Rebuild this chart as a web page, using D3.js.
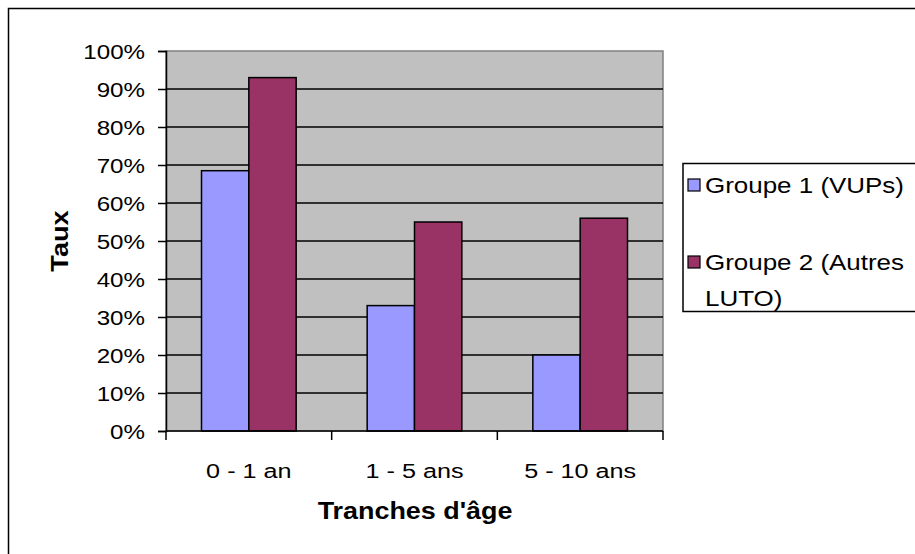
<!DOCTYPE html>
<html lang="fr">
<head>
  <meta charset="UTF-8">
  <title>Taux par tranches d'âge</title>
  <script src="https://cdn.jsdelivr.net/npm/d3@7"></script>
  <style>
    body { margin: 0; background: #fff; }
    svg { display: block; font-family: Arial, "Liberation Sans", sans-serif; }
  </style>
</head>
<body>
<svg id="chart" width="915" height="554"></svg>
<script>
  const categories = ["0 - 1 an", "1 - 5 ans", "5 - 10 ans"]
  const seriesNames = ["Groupe 1 (VUPs)", "Groupe 2 (Autres LUTO)"]
  const groupe1 = [0.685, 0.33, 0.20]
  const groupe2 = [0.93, 0.55, 0.56]
  const yTicks = [0, 0.1, 0.2, 0.3, 0.4, 0.5, 0.6, 0.7, 0.8, 0.9, 1]

  const colors = ["#9999FF", "#993366"]
  const series = [groupe1, groupe2]

  const svg = d3.select("#chart")
  const plot = { left: 166, right: 663, top: 51, bottom: 431 }

  // the original text is a little wider than Arial, so stretch it horizontally
  function label(parent, x, y, txt, o = {}) {
    const t = parent.append("text")
      .attr("transform", `translate(${x},${y}) rotate(${o.rotate || 0}) scale(${o.sx || 1.18},1)`)
      .attr("text-anchor", o.anchor || "start")
      .attr("font-size", o.size || 21)
      .attr("fill", "#000")
      .text(txt)
    if (o.bold) t.attr("font-weight", "bold")
    if (o.dy) t.attr("dy", o.dy)
    return t
  }

  // outer chart frame
  svg.append("rect")
    .attr("x", 8.5).attr("y", 8.5)
    .attr("width", 940).attr("height", 600)
    .attr("fill", "none").attr("stroke", "#000").attr("stroke-width", 1.5)

  const x = d3.scaleBand().domain(categories).range([plot.left, plot.right])
  const y = d3.scaleLinear().domain([0, 1]).range([plot.bottom, plot.top])

  // plot area
  svg.append("rect")
    .attr("x", plot.left).attr("y", plot.top)
    .attr("width", plot.right - plot.left).attr("height", plot.bottom - plot.top)
    .attr("fill", "#C0C0C0").attr("stroke", "#808080").attr("stroke-width", 1.5)

  // gridlines
  svg.append("g").selectAll("line")
    .data(yTicks.filter(d => d > 0 && d < 1))
    .join("line")
    .attr("x1", plot.left).attr("x2", plot.right)
    .attr("y1", d => y(d)).attr("y2", d => y(d))
    .attr("stroke", "#000").attr("stroke-width", 1.5)

  // bars: Excel style, gap width 150%
  const barW = x.bandwidth() / 3.5
  const gap = barW * 0.75
  series.forEach((vals, si) => {
    svg.append("g").selectAll("rect")
      .data(categories)
      .join("rect")
      .attr("x", d => x(d) + gap + si * barW)
      .attr("y", (d, i) => y(vals[i]))
      .attr("width", barW)
      .attr("height", (d, i) => y(0) - y(vals[i]))
      .attr("fill", colors[si])
      .attr("stroke", "#000").attr("stroke-width", 1.5)
  })

  // y axis
  const yAxis = svg.append("g")
    .attr("transform", `translate(${plot.left},0)`)
    .call(d3.axisLeft(y).tickValues(yTicks).tickFormat("").tickSize(8))
  yAxis.select(".domain").attr("stroke", "#000").attr("stroke-width", 1.5)
  yAxis.selectAll(".tick line").attr("stroke-width", 1.5)
  const fmt = d3.format(".0%")
  yTicks.forEach(d => label(svg, 145, y(d), fmt(d), { anchor: "end", dy: "0.36em", sx: 1.15 }))

  // x axis: ticks on category boundaries
  const xAxis = svg.append("g").attr("transform", `translate(0,${plot.bottom})`)
  xAxis.append("line")
    .attr("x1", plot.left).attr("x2", plot.right)
    .attr("stroke", "#000").attr("stroke-width", 1.5)
  xAxis.selectAll(".xt")
    .data(categories.map(c => x(c)).concat([plot.right]))
    .join("line")
    .attr("x1", d => d).attr("x2", d => d)
    .attr("y1", 0).attr("y2", 9)
    .attr("stroke", "#000").attr("stroke-width", 1.5)
  categories.forEach(c => label(svg, x(c) + x.bandwidth() / 2, 478, c, { anchor: "middle", sx: 1.2 }))

  // axis titles
  label(svg, 415, 519, "Tranches d'âge", { anchor: "middle", size: 23, bold: true, sx: 1.17 })
  label(svg, 68, 241, "Taux", { anchor: "middle", size: 23, bold: true, sx: 1.18, rotate: -90 })

  // legend
  const legend = svg.append("g")
  legend.append("rect")
    .attr("x", 683).attr("y", 163.5)
    .attr("width", 260).attr("height", 148)
    .attr("fill", "#fff").attr("stroke", "#000").attr("stroke-width", 1.5)
  const legendLines = [["Groupe 1 (VUPs)"], ["Groupe 2 (Autres", "LUTO)"]]
  const legendY = [185, 262]
  seriesNames.forEach((name, i) => {
    legend.append("rect")
      .attr("x", 688).attr("y", legendY[i] - 6)
      .attr("width", 12).attr("height", 12)
      .attr("fill", colors[i]).attr("stroke", "#000").attr("stroke-width", 1.2)
    legendLines[i].forEach((line, j) => {
      label(legend, 705, legendY[i] + 8 + j * 36, line, { size: 22, sx: 1.18 })
    })
  })
</script>
</body>
</html>
